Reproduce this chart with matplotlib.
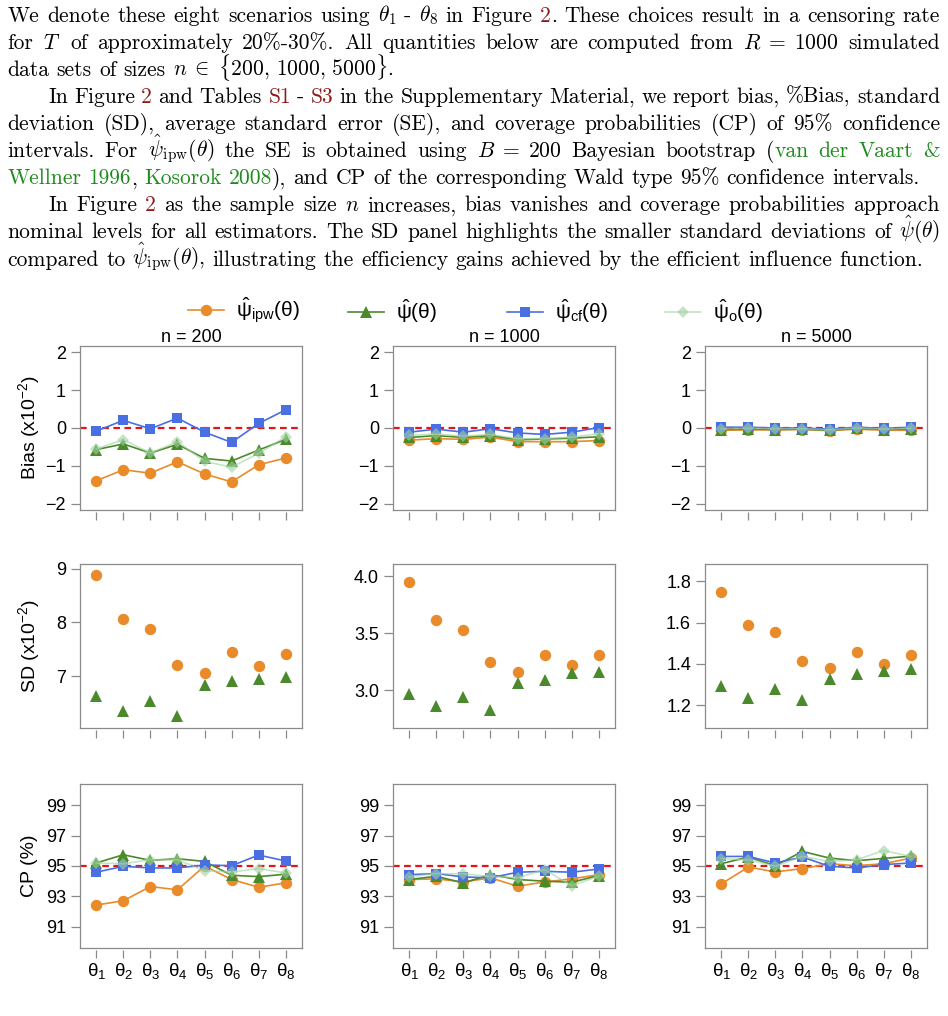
import matplotlib
matplotlib.use('Agg')
import matplotlib.pyplot as plt
from matplotlib.lines import Line2D
from matplotlib.ticker import FormatStrFormatter
import numpy as np

plt.rcParams['mathtext.fontset'] = 'custom'
plt.rcParams['mathtext.rm'] = 'Liberation Sans'
plt.rcParams['mathtext.it'] = 'Liberation Sans'
plt.rcParams['mathtext.bf'] = 'Liberation Sans:bold'
plt.rcParams['font.family'] = ['Liberation Sans', 'DejaVu Sans']

# ---------------- data ----------------
scenario_labels = [r'$\theta_1$', r'$\theta_2$', r'$\theta_3$', r'$\theta_4$',
                   r'$\theta_5$', r'$\theta_6$', r'$\theta_7$', r'$\theta_8$']
sample_sizes = [200, 1000, 5000]
series_labels = [r'$\hat{\psi}_{\mathrm{ipw}}(\theta)$', r'$\hat{\psi}(\theta)$',
                 r'$\hat{\psi}_{\mathrm{cf}}(\theta)$', r'$\hat{\psi}_{\mathrm{o}}(\theta)$']

bias_ipw = [[-1.39, -1.10, -1.19, -0.89, -1.21, -1.42, -0.97, -0.79],
            [-0.32, -0.28, -0.30, -0.24, -0.36, -0.36, -0.36, -0.33],
            [-0.06, -0.05, -0.05, -0.04, -0.07, -0.03, -0.06, -0.06]]
bias_eff = [[-0.57, -0.42, -0.66, -0.43, -0.80, -0.87, -0.58, -0.30],
            [-0.25, -0.20, -0.25, -0.20, -0.31, -0.29, -0.27, -0.23],
            [-0.04, -0.03, -0.04, -0.03, -0.06, -0.01, -0.04, -0.03]]
bias_cf = [[-0.08, 0.20, -0.02, 0.26, -0.11, -0.38, 0.12, 0.48],
           [-0.11, -0.03, -0.11, -0.02, -0.13, -0.17, -0.11, 0.01],
           [0.02, 0.02, 0.00, 0.00, -0.03, 0.02, -0.01, 0.02]]
bias_o = [[-0.55, -0.31, -0.66, -0.36, -0.88, -1.03, -0.67, -0.23],
          [-0.19, -0.16, -0.21, -0.17, -0.28, -0.28, -0.24, -0.15],
          [-0.02, -0.01, -0.02, -0.02, -0.05, 0.00, -0.03, -0.01]]

sd_ipw = [[8.88, 8.07, 7.88, 7.21, 7.05, 7.44, 7.18, 7.41],
          [3.95, 3.62, 3.53, 3.25, 3.16, 3.31, 3.22, 3.31],
          [1.750, 1.586, 1.552, 1.414, 1.379, 1.456, 1.398, 1.445]]
sd_eff = [[6.63, 6.34, 6.54, 6.26, 6.83, 6.91, 6.94, 6.99],
          [2.97, 2.86, 2.94, 2.83, 3.06, 3.09, 3.15, 3.16],
          [1.291, 1.237, 1.277, 1.224, 1.328, 1.349, 1.365, 1.373]]

cp_ipw = [[92.43, 92.71, 93.65, 93.43, 95.00, 94.11, 93.60, 93.89],
          [94.11, 94.15, 93.95, 94.22, 93.67, 93.95, 94.15, 94.43],
          [93.82, 94.93, 94.61, 94.83, 95.15, 95.02, 95.15, 95.52]]
cp_eff = [[95.20, 95.74, 95.37, 95.48, 95.30, 94.39, 94.30, 94.46],
          [94.11, 94.32, 93.89, 94.43, 94.11, 94.00, 93.93, 94.37],
          [95.15, 95.59, 95.02, 95.96, 95.52, 95.35, 95.50, 95.65]]
cp_cf = [[94.59, 94.98, 94.87, 94.87, 95.07, 95.02, 95.72, 95.33],
         [94.43, 94.50, 94.28, 94.22, 94.59, 94.65, 94.59, 94.80],
         [95.63, 95.63, 95.20, 95.59, 94.98, 94.87, 95.09, 95.20]]
cp_o = [[95.20, 95.15, 95.41, 95.41, 94.70, 94.60, 94.83, 94.54],
        [94.28, 94.50, 94.48, 94.32, 94.22, 94.76, 93.71, 94.32],
        [95.48, 95.41, 94.98, 95.63, 95.30, 95.41, 96.02, 95.63]]

row_labels = [r'Bias (x10$^{-2}$)', r'SD (x10$^{-2}$)', 'CP (%)']
bias_ticks = [-2, -1, 0, 1, 2]
sd_ticks = [[7, 8, 9], [3.0, 3.5, 4.0], [1.2, 1.4, 1.6, 1.8]]
cp_ticks = [91, 93, 95, 97, 99]

# ---------------- styles ----------------
C_IPW = '#E98B2A'
C_EFF = '#4A8A2C'
C_CF = '#4A6FE3'
C_O = '#9FD39F'
C_REF = '#E5141B'
BOXC = '#8a8a8a'

W, H = 948, 1016
fig = plt.figure(figsize=(W / 100, H / 100), dpi=100)

COL_L = [80, 393, 705]
ROW_T = [346, 564, 784]
BOX_W, BOX_H = 222, 164

styles = [dict(color=C_IPW, marker='o', ms=8.2, lw=1.2, mew=0, zorder=3),
          dict(color=C_EFF, marker='^', ms=8.6, lw=1.2, mew=0, zorder=4),
          dict(color=C_CF, marker='s', ms=7.8, lw=1.2, mew=0, zorder=5),
          dict(color=C_O, marker='D', ms=6.6, lw=1.2, mew=0, alpha=0.6, zorder=6)]

x = np.arange(1, 9)


def make_axes(col, row):
    ax = fig.add_axes([COL_L[col] / W, 1 - (ROW_T[row] + BOX_H) / H, BOX_W / W, BOX_H / H])
    for s in ax.spines.values():
        s.set_color(BOXC)
        s.set_linewidth(0.9)
    ax.tick_params(axis='y', length=6.5, width=0.9, color=BOXC, pad=3.5, labelsize=13)
    ax.tick_params(axis='x', bottom=False, labelbottom=False)
    ax.set_xlim(0.4, 8.6)
    sec = ax.secondary_xaxis(-0.014)
    sec.spines['bottom'].set_visible(False)
    if row == 2:
        sec.set_xticks(x, labels=scenario_labels)
    else:
        sec.set_xticks(x, labels=[''] * 8)
    sec.tick_params(axis='x', length=6, width=0.9, color=BOXC, pad=1.5, labelsize=13.5)
    return ax


for j, n in enumerate(sample_sizes):
    # Bias
    ax = make_axes(j, 0)
    ax.axhline(0, color=C_REF, lw=1.6, dashes=(3, 2), zorder=1)
    for vals, st in zip([bias_ipw, bias_eff, bias_cf, bias_o], styles):
        ax.plot(x, vals[j], **st)
    ax.set_ylim(-2.16, 2.16)
    ax.set_yticks(bias_ticks)
    ax.set_title(f'n = {n}', fontsize=13, pad=2)

    # SD
    ax = make_axes(j, 1)
    for vals, st in zip([sd_ipw, sd_eff], styles[:2]):
        ax.plot(x, vals[j], ls='none', **{k: v for k, v in st.items() if k != 'lw'})
    ax.set_ylim([(6.03, 9.09), (2.669, 4.108), (1.09, 1.883)][j])
    ax.set_yticks(sd_ticks[j])
    ax.yaxis.set_major_formatter(FormatStrFormatter('%d' if j == 0 else '%.1f'))

    # CP
    ax = make_axes(j, 2)
    ax.axhline(95, color=C_REF, lw=1.6, dashes=(3, 2), zorder=1)
    for vals, st in zip([cp_ipw, cp_eff, cp_cf, cp_o], styles):
        ax.plot(x, vals[j], **st)
    ax.set_ylim(89.6, 100.4)
    ax.set_yticks(cp_ticks)

for r, lab in enumerate(row_labels):
    yc = ROW_T[r] + BOX_H / 2
    fig.text(29 / W, 1 - yc / H, lab, rotation=90, ha='center', va='center', fontsize=14)

# legend (one entry each so spacing matches)
leg_x = [188, 348, 507, 665]
for st, lab, lx in zip(styles, series_labels, leg_x):
    h = Line2D([], [], **{k: v for k, v in st.items() if k != 'zorder'})
    fig.legend(handles=[h], labels=[lab], loc='center left',
               bbox_to_anchor=(lx / W, 1 - 311 / H), frameon=False,
               handlelength=1.75, handletextpad=0.55, fontsize=15,
               borderaxespad=0, borderpad=0)

# ---------------- paragraph text ----------------
RED = '#8E1B1B'
GREEN = '#1F8A1F'
SERIF = ['cmr10', 'DejaVu Serif']
FS = 15.5
INDENT = 40.5
X0, X1 = 7.5, 940.0
BASE0, LSTEP = 21.7, 27.1

text_lines = [
    ("We denote these eight scenarios using $\\theta_1$ - $\\theta_8$ in Figure \u00ab2\u00bb. These choices result in a censoring rate", 0, True),
    ("for $T$ of approximately 20%-30%. All quantities below are computed from $R\\;=\\;1000$ simulated", 0, True),
    ("data sets of sizes $n\\;\\in\\;\\{200,\\,1000,\\,5000\\}$.", 0, False),
    ("In Figure \u00ab2\u00bb and Tables \u00abS1\u00bb - \u00abS3\u00bb in the Supplementary Material, we report bias, %Bias, standard", 1, True),
    ("deviation (SD), average standard error (SE), and coverage probabilities (CP) of 95% confidence", 0, True),
    ("intervals. For $\\hat{\\psi}_{\\mathrm{ipw}}(\\theta)$ the SE is obtained using $B\\;=\\;200$ Bayesian bootstrap (\u2039van der Vaart &\u203a", 0, True),
    ("\u2039Wellner 1996\u203a, \u2039Kosorok 2008\u203a), and CP of the corresponding Wald type 95% confidence intervals.", 0, False),
    ("In Figure \u00ab2\u00bb as the sample size $n$ increases, bias vanishes and coverage probabilities approach", 1, True),
    ("nominal levels for all estimators. The SD panel highlights the smaller standard deviations of $\\hat{\\psi}(\\theta)$", 0, True),
    ("compared to $\\hat{\\psi}_{\\mathrm{ipw}}(\\theta)$, illustrating the efficiency gains achieved by the efficient influence function.", 0, False),
]


def tokenize(line):
    words = []
    cur_word = []
    buf = ''
    color = 'black'
    in_math = False
    for ch in line:
        if not in_math and ch in '\u00ab\u2039\u00bb\u203a':
            if buf:
                cur_word.append((buf, color))
                buf = ''
            color = {'\u00ab': RED, '\u2039': GREEN}.get(ch, 'black')
        elif ch == '$':
            buf += ch
            in_math = not in_math
        elif ch == ' ' and not in_math:
            if buf:
                cur_word.append((buf, color))
                buf = ''
            if cur_word:
                words.append(cur_word)
                cur_word = []
        else:
            buf += ch
    if buf:
        cur_word.append((buf, color))
    if cur_word:
        words.append(cur_word)
    return words


renderer = fig.canvas.get_renderer()
space_px = 0.333 * FS * 100 / 72

for i, (line, ind, justify) in enumerate(text_lines):
    y = BASE0 + i * LSTEP
    words = tokenize(line)
    objs = []
    total = 0.0
    for w in words:
        wo = []
        for txt, col in w:
            t = fig.text(0, 1 - y / H, txt, fontsize=FS, family=SERIF, color=col,
                         math_fontfamily='cm', ha='left', va='baseline')
            wid = t.get_window_extent(renderer=renderer).width
            wo.append((t, wid))
            total += wid
        objs.append(wo)
    x0 = X0 + (INDENT if ind else 0)
    if justify and len(objs) > 1:
        gap = max((X1 - x0 - total) / (len(objs) - 1), 3.0)
    else:
        gap = space_px
    xc = x0
    for wo in objs:
        for t, wid in wo:
            t.set_x(xc / W)
            xc += wid
        xc += gap

fig.savefig('out.png', dpi=100)
